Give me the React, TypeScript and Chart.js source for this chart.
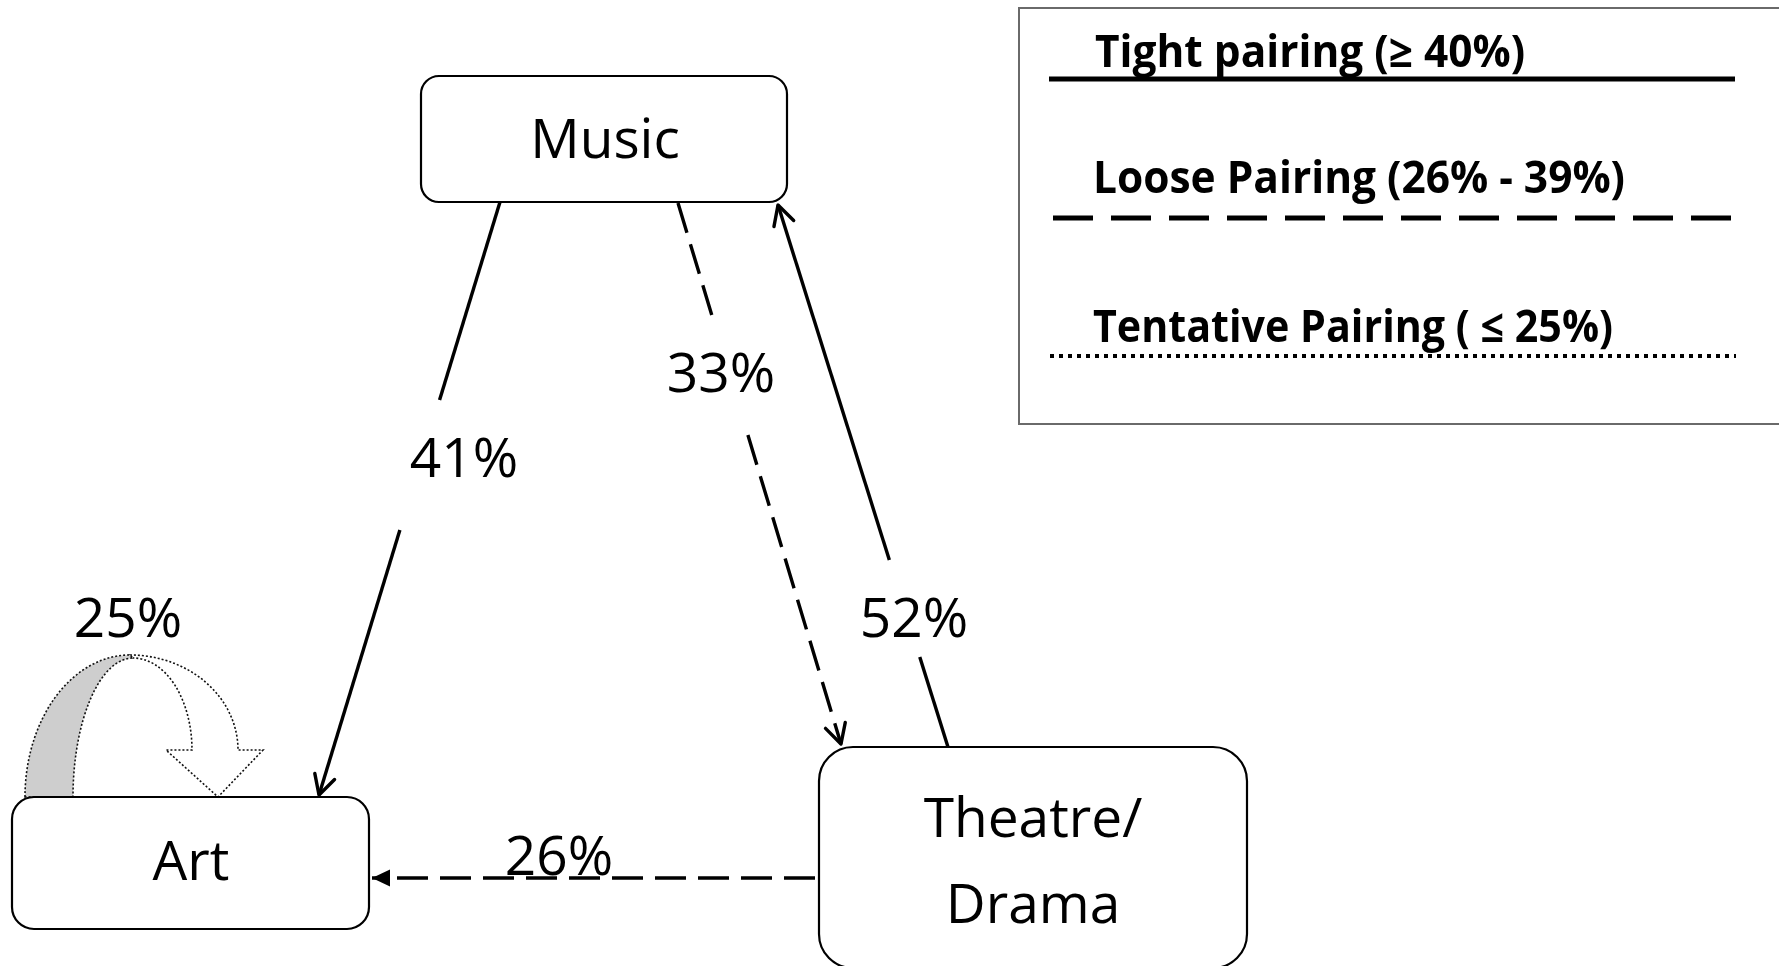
import React, { useEffect, useRef } from 'react';
import { Chart, registerables } from 'chart.js';

Chart.register(...registerables);

// ---------------- data ----------------
const nodeNames = ['Music', 'Art', 'Theatre/Drama'];
const nodeTextLines = [['Music'], ['Art'], ['Theatre/', 'Drama']];
const edgeFrom = ['Music', 'Music', 'Theatre/Drama', 'Theatre/Drama', 'Art'];
const edgeTo = ['Art', 'Theatre/Drama', 'Music', 'Art', 'Art'];
const edgeValues = [41, 33, 52, 26, 25];
const legendLabels = ['Tight pairing (\u2265 40%)', 'Loose Pairing (26% - 39%)', 'Tentative Pairing ( \u2264 25%)'];

// ---------------- layout (diagram units, 1779 x 966 space) ----------------
const SPACE_W = 1779;
const SPACE_H = 966;
const nodeBoxes = [
  [421, 76, 787, 202, 18],
  [12, 797, 369, 929, 22],
  [819, 747, 1247, 968, 34],
];
const nodeTextX = [605, 191, 1033];
const nodeTextBaselines = [[158], [880], [837, 923]];
const edgeStart = [[500, 202], [678, 203], [948, 747], [815, 878], null];
const edgeEnd = [[319, 795], [841, 744], [778, 205], [372, 878], null];
const edgeGapY = [[400, 530], [315, 435], [657, 560], null, null];
const edgeLabelPos = [[464, 477], [721, 392], [914, 637], [559, 875], [128, 637]];
const edgeHead = ['open', 'open', 'open', 'filled', 'block'];

const legendBox = [1019, 8, 1790, 424];
const legendLineY = [79, 218, 356];
const legendLineX = [[1049, 1735], [1053, 1737], [1050, 1736]];
const legendTextX = [1095, 1093, 1093];
const legendTextBase = [67, 193, 342];
const legendTextW = [430, 532, 520];

// styles
const classDash = [[], [31, 12], [2, 2]];
const classWidth = [3.4, 3.4, 1.5];
const legendDash = [[], [40, 18], [4, 5]];
const legendWidth = [5, 5, 4];

function pairingClass(v: number) {
  return v >= 40 ? 0 : v >= 26 ? 1 : 2;
}

const FONT_NODE = '55px "Open Sans"';
const FONT_LEGEND = 'bold 44px "Open Sans"';

function buildDatasets() {
  const ds: any[] = [];
  edgeValues.forEach((v, i) => {
    const s = edgeStart[i];
    const e = edgeEnd[i];
    if (!s || !e) return;
    const cls = pairingClass(v);
    const g = edgeGapY[i];
    const segs: any[] = [];
    if (g) {
      const pt = (yy: number) => {
        const t = (yy - s[1]) / (e[1] - s[1]);
        return { x: s[0] + t * (e[0] - s[0]), y: yy };
      };
      segs.push([{ x: s[0], y: s[1] }, pt(g[0])]);
      segs.push([pt(g[1]), { x: e[0], y: e[1] }]);
    } else {
      segs.push([{ x: s[0], y: s[1] }, { x: e[0], y: e[1] }]);
    }
    segs.forEach((d) =>
      ds.push({
        label: `${edgeFrom[i]} \u2192 ${edgeTo[i]} (${v}%)`,
        data: d,
        showLine: true,
        borderColor: '#000',
        backgroundColor: '#000',
        borderWidth: classWidth[cls],
        borderDash: classDash[cls],
        borderCapStyle: 'butt',
        pointRadius: 0,
        pointHoverRadius: 0,
        fill: false,
        tension: 0,
        clip: false,
      })
    );
  });
  return ds;
}

function roundRectPath(ctx: CanvasRenderingContext2D, x1: number, y1: number, x2: number, y2: number, r: number) {
  ctx.beginPath();
  ctx.moveTo(x1 + r, y1);
  ctx.lineTo(x2 - r, y1);
  ctx.arcTo(x2, y1, x2, y1 + r, r);
  ctx.lineTo(x2, y2 - r);
  ctx.arcTo(x2, y2, x2 - r, y2, r);
  ctx.lineTo(x1 + r, y2);
  ctx.arcTo(x1, y2, x1, y2 - r, r);
  ctx.lineTo(x1, y1 + r);
  ctx.arcTo(x1, y1, x1 + r, y1, r);
  ctx.closePath();
}

const diagramPlugin = {
  id: 'diagram',
  beforeDraw(chart: any) {
    const ctx = chart.ctx;
    ctx.save();
    ctx.fillStyle = '#fff';
    ctx.fillRect(0, 0, chart.width, chart.height);
    ctx.restore();
  },
  beforeDatasetsDraw(chart: any) {
    const ctx: CanvasRenderingContext2D = chart.ctx;
    const X = (v: number) => chart.scales.x.getPixelForValue(v);
    const Y = (v: number) => chart.scales.y.getPixelForValue(v);
    const sx = X(1) - X(0);
    const sy = Y(1) - Y(0);

    // self loop (block curved arrow) for Art
    ctx.save();
    ctx.setLineDash([2, 2]);
    ctx.lineWidth = 1.6;
    ctx.strokeStyle = '#111';
    // right shaft + head
    ctx.beginPath();
    ctx.moveTo(X(130), Y(655));
    ctx.ellipse(X(130), Y(750), 108 * sx, 95 * sy, 0, 1.5 * Math.PI, 2 * Math.PI, false);
    ctx.lineTo(X(263), Y(750));
    ctx.lineTo(X(218), Y(797));
    ctx.lineTo(X(166), Y(750));
    ctx.lineTo(X(192), Y(750));
    ctx.ellipse(X(133), Y(750), 59 * sx, 92 * sy, 0, 0, -0.5 * Math.PI, true);
    ctx.closePath();
    ctx.fillStyle = '#fff';
    ctx.fill();
    ctx.stroke();
    // left band (shaded)
    ctx.beginPath();
    ctx.moveTo(X(25), Y(797));
    ctx.ellipse(X(130), Y(797), 105 * sx, 142 * sy, 0, Math.PI, 1.5 * Math.PI, false);
    ctx.ellipse(X(133), Y(797), 60 * sx, 139 * sy, 0, 1.5 * Math.PI, Math.PI, true);
    ctx.closePath();
    ctx.fillStyle = '#cecece';
    ctx.fill();
    ctx.stroke();
    ctx.restore();

    // node boxes
    ctx.save();
    ctx.lineWidth = 2.2;
    ctx.strokeStyle = '#000';
    nodeBoxes.forEach((b) => {
      roundRectPath(ctx, X(b[0]), Y(b[1]), X(b[2]), Y(b[3]), b[4] * sx);
      ctx.stroke();
    });
    ctx.restore();
  },
  afterDatasetsDraw(chart: any) {
    const ctx: CanvasRenderingContext2D = chart.ctx;
    const X = (v: number) => chart.scales.x.getPixelForValue(v);
    const Y = (v: number) => chart.scales.y.getPixelForValue(v);

    // arrow heads
    ctx.save();
    ctx.strokeStyle = '#000';
    ctx.fillStyle = '#000';
    edgeValues.forEach((v, i) => {
      const s = edgeStart[i];
      const e = edgeEnd[i];
      if (!s || !e) return;
      const tx = X(e[0]);
      const ty = Y(e[1]);
      const ang = Math.atan2(ty - Y(s[1]), tx - X(s[0]));
      if (edgeHead[i] === 'open') {
        const L = 22;
        const a = (28 * Math.PI) / 180;
        ctx.lineWidth = 3.4;
        ctx.lineCap = 'round';
        ctx.lineJoin = 'round';
        ctx.setLineDash([]);
        ctx.beginPath();
        ctx.moveTo(tx - L * Math.cos(ang - a), ty - L * Math.sin(ang - a));
        ctx.lineTo(tx, ty);
        ctx.lineTo(tx - L * Math.cos(ang + a), ty - L * Math.sin(ang + a));
        ctx.stroke();
      } else if (edgeHead[i] === 'filled') {
        const L = 18;
        const hw = 8.5;
        const bx = tx - L * Math.cos(ang);
        const by = ty - L * Math.sin(ang);
        ctx.beginPath();
        ctx.moveTo(tx, ty);
        ctx.lineTo(bx + hw * Math.sin(ang), by - hw * Math.cos(ang));
        ctx.lineTo(bx - hw * Math.sin(ang), by + hw * Math.cos(ang));
        ctx.closePath();
        ctx.fill();
      }
    });
    ctx.restore();

    // edge labels
    ctx.save();
    ctx.fillStyle = '#000';
    ctx.font = FONT_NODE;
    ctx.textAlign = 'center';
    ctx.textBaseline = 'alphabetic';
    edgeValues.forEach((v, i) => {
      const p = edgeLabelPos[i];
      ctx.fillText(`${v}%`, X(p[0]), Y(p[1]));
    });
    // node labels
    nodeNames.forEach((n, i) => {
      nodeTextLines[i].forEach((line, k) => {
        ctx.fillText(line, X(nodeTextX[i]), Y(nodeTextBaselines[i][k]));
      });
    });
    ctx.restore();

    // legend
    ctx.save();
    ctx.strokeStyle = '#6a6a6a';
    ctx.lineWidth = 2;
    ctx.strokeRect(X(legendBox[0]), Y(legendBox[1]), X(legendBox[2]) - X(legendBox[0]), Y(legendBox[3]) - Y(legendBox[1]));
    ctx.strokeStyle = '#000';
    ctx.fillStyle = '#000';
    legendLabels.forEach((lab, i) => {
      ctx.lineWidth = legendWidth[i];
      ctx.setLineDash(legendDash[i]);
      ctx.lineCap = 'butt';
      ctx.beginPath();
      ctx.moveTo(X(legendLineX[i][0]), Y(legendLineY[i]));
      ctx.lineTo(X(legendLineX[i][1]), Y(legendLineY[i]));
      ctx.stroke();
      ctx.setLineDash([]);
      ctx.font = FONT_LEGEND;
      ctx.textAlign = 'left';
      const m = ctx.measureText(lab).width;
      const target = X(legendTextX[i] + legendTextW[i]) - X(legendTextX[i]);
      ctx.save();
      ctx.translate(X(legendTextX[i]), Y(legendTextBase[i]));
      ctx.scale(target / m, 1);
      ctx.fillText(lab, 0, 0);
      ctx.restore();
    });
    ctx.restore();
  },
};

export default function App() {
  const canvasRef = useRef<HTMLCanvasElement | null>(null);

  useEffect(() => {
    if (!canvasRef.current) return;
    const chart = new Chart(canvasRef.current, {
      type: 'scatter',
      data: { datasets: buildDatasets() },
      options: {
        animation: false,
        responsive: true,
        maintainAspectRatio: false,
        events: [],
        layout: { padding: 0 },
        scales: {
          x: { type: 'linear', min: 0, max: SPACE_W, display: false },
          y: { type: 'linear', min: 0, max: SPACE_H, reverse: true, display: false },
        },
        plugins: { legend: { display: false }, tooltip: { enabled: false } },
      },
      plugins: [diagramPlugin],
    } as any);
    return () => chart.destroy();
  }, []);

  return (
    <div style={{ position: 'fixed', left: 0, top: 0, width: 1779, height: 966, background: '#fff' }}>
      <canvas ref={canvasRef} />
    </div>
  );
}
